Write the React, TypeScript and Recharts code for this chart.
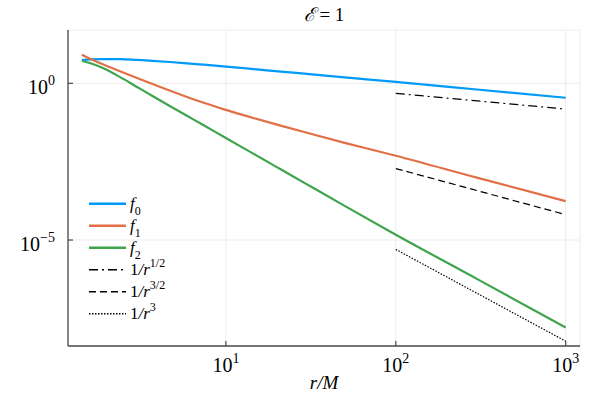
import React, { ReactElement } from 'react';
import { LineChart, Line, XAxis, YAxis, CartesianGrid, Legend } from 'recharts';

const radii = [1.42, 1.6, 1.9, 2.4, 3, 3.7, 4.7, 5.9, 7.4, 10, 14.5, 21, 30, 50, 100, 300, 1000];
const f0Values = [5.55, 5.82, 5.97, 5.96, 5.6, 5.25, 4.81, 4.37, 3.94, 3.43, 2.86, 2.38, 2.0, 1.55, 1.11, 0.638, 0.347];
const f1Values = [
  8.2, 5.97, 3.98, 2.39, 1.48, 0.951, 0.582, 0.369, 0.24, 0.142, 0.0783, 0.0449, 0.0265, 0.01265,
  0.0049, 0.000977, 0.000174,
];
const f2Values = [
  5.27, 4.36, 3.02, 1.55, 0.766, 0.395, 0.187, 0.0925, 0.0459, 0.018, 0.00571, 0.00181, 0.000598,
  0.000123, 1.48e-5, 5.75e-7, 1.62e-8,
];

// power-law guide lines
const guideRadii = [100, 1000];
const guideHalf = [0.479, 0.151];
const guideThreeHalves = [0.00191, 6.46e-5];
const guideCube = [5.01e-6, 5.89e-9];

const xTicks = [10, 100, 1000];
const yTicks = [1, 1e-5];

const FONT = '"Liberation Serif", "DejaVu Serif", serif';
const AXIS = '#4a4a4a';

const toPoints = (xs: number[], ys: number[]) => xs.map((r, i) => ({ r, v: ys[i] }));

const series = [
  { key: 'f0', data: toPoints(radii, f0Values), color: '#009AFA', width: 2.2, dash: undefined },
  { key: 'f1', data: toPoints(radii, f1Values), color: '#E36F47', width: 2.2, dash: undefined },
  { key: 'f2', data: toPoints(radii, f2Values), color: '#3EA44E', width: 2.2, dash: undefined },
  { key: 'g12', data: toPoints(guideRadii, guideHalf), color: '#000', width: 1.2, dash: '9 4 2 4' },
  { key: 'g32', data: toPoints(guideRadii, guideThreeHalves), color: '#000', width: 1.2, dash: '7 4' },
  { key: 'g3', data: toPoints(guideRadii, guideCube), color: '#000', width: 1.2, dash: '1.5 1.5' },
];

const legendLabels: Record<string, ReactElement> = {
  f0: <><tspan fontStyle="italic">f</tspan><tspan dy={6} fontSize={12}>0</tspan></>,
  f1: <><tspan fontStyle="italic">f</tspan><tspan dy={6} fontSize={12}>1</tspan></>,
  f2: <><tspan fontStyle="italic">f</tspan><tspan dy={6} fontSize={12}>2</tspan></>,
  g12: <>1<tspan fontStyle="italic">/r</tspan><tspan dy={-8} fontSize={12}>1/2</tspan></>,
  g32: <>1<tspan fontStyle="italic">/r</tspan><tspan dy={-8} fontSize={12}>3/2</tspan></>,
  g3: <>1<tspan fontStyle="italic">/r</tspan><tspan dy={-8} fontSize={12}>3</tspan></>,
};

const sup = (v: number) => {
  const e = Math.round(Math.log10(v));
  return e < 0 ? `\u2212${-e}` : `${e}`;
};

// eslint-disable-next-line @typescript-eslint/no-explicit-any
const YTick = ({ x, y, payload }: any) => (
  <g>
    <line x1={x + 13} x2={x + 18} y1={y} y2={y} stroke={AXIS} strokeWidth={1.2} />
    <text x={x} y={y + 11} textAnchor="end" fontFamily={FONT} fontSize={20} fill="#000">
      10<tspan dy={-9} fontSize={14}>{sup(payload.value)}</tspan>
    </text>
  </g>
);

// eslint-disable-next-line @typescript-eslint/no-explicit-any
const XTick = ({ x, y, payload }: any) => (
  <g>
    <line x1={x} x2={x} y1={y - 8} y2={y - 13} stroke={AXIS} strokeWidth={1.2} />
    <text x={x} y={y + 18} textAnchor="middle" fontFamily={FONT} fontSize={20} fill="#000">
      10<tspan dy={-9} fontSize={14}>{sup(payload.value)}</tspan>
    </text>
  </g>
);

// eslint-disable-next-line @typescript-eslint/no-explicit-any
const XLabel = ({ viewBox }: any) => (
  <text
    x={viewBox.x + viewBox.width / 2}
    y={viewBox.y + 43}
    textAnchor="middle"
    fontFamily={FONT}
    fontStyle="italic"
    fontSize={19}
    fill="#000"
  >
    r/M
  </text>
);

const renderLegend = () => (
  <svg width={120} height={140}>
    {series.map((s, i) => {
      const cy = 11.7 + i * 22;
      return (
        <g key={s.key}>
          <line
            x1={4}
            x2={41}
            y1={cy}
            y2={cy}
            stroke={s.color}
            strokeWidth={s.width === 2.2 ? 2.6 : 1.4}
            strokeDasharray={s.dash}
          />
          <text x={45} y={cy + 5} fontFamily={FONT} fontSize={17} fill="#000">
            {legendLabels[s.key]}
          </text>
        </g>
      );
    })}
  </svg>
);

function App(): ReactElement {
  return (
    <div style={{ position: 'absolute', left: 0, top: 0, width: 600, height: 400, background: '#fff' }}>
      <div
        style={{
          position: 'absolute',
          left: 68,
          top: 4,
          width: 512,
          textAlign: 'center',
          fontFamily: FONT,
          fontSize: 19,
          lineHeight: '22px',
        }}
      >
        <span style={{ fontStyle: 'italic' }}>ℰ</span> = 1
      </div>
      <LineChart width={600} height={400} margin={{ top: 30, right: 20, bottom: 0, left: 0 }}>
        <CartesianGrid stroke="#ececec" strokeWidth={1} />
        <XAxis
          dataKey="r"
          type="number"
          scale="log"
          domain={[1.177, 1214]}
          allowDataOverflow
          ticks={xTicks}
          height={54}
          tickSize={0}
          tickMargin={8}
          tickLine={false}
          axisLine={{ stroke: AXIS, strokeWidth: 1.3 }}
          tick={<XTick />}
          label={<XLabel />}
        />
        <YAxis
          type="number"
          scale="log"
          domain={[4.14e-9, 50.5]}
          allowDataOverflow
          ticks={yTicks}
          width={68}
          tickSize={0}
          tickMargin={13}
          tickLine={false}
          axisLine={{ stroke: AXIS, strokeWidth: 1.3 }}
          tick={<YTick />}
        />
        <Legend
          layout="vertical"
          align="center"
          verticalAlign="middle"
          content={renderLegend}
          wrapperStyle={{ left: 85, top: 192, width: 120, height: 140 }}
        />
        {series.map((s) => (
          <Line
            key={s.key}
            data={s.data}
            dataKey="v"
            name={s.key}
            type="monotone"
            stroke={s.color}
            strokeWidth={s.width}
            strokeDasharray={s.dash}
            dot={false}
            activeDot={false}
            isAnimationActive={false}
          />
        ))}
      </LineChart>
    </div>
  );
}

export default App;
